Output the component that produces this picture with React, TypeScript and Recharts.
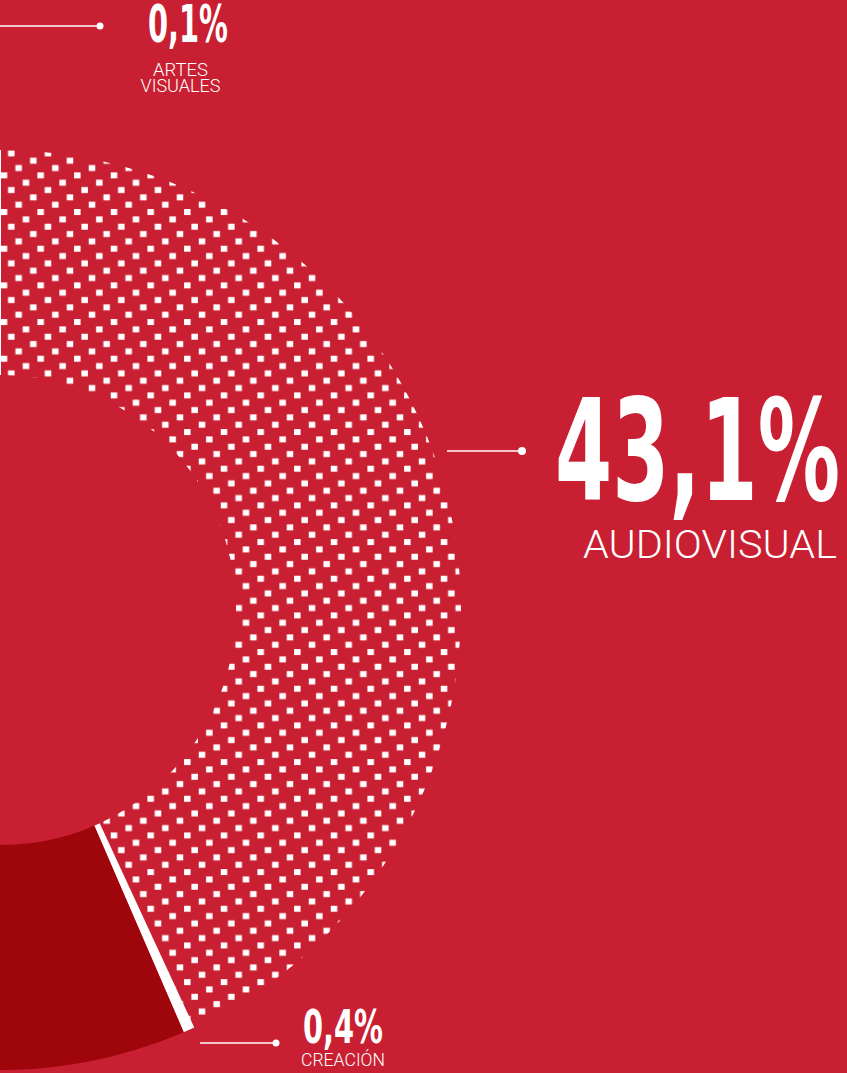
import React from 'react';
import { PieChart, Pie, Cell } from 'recharts';

// ---- data ----
const categories = ['Audiovisual', 'Creación', 'Resto', 'Artes visuales'];
const shares = [43.1, 0.4, 56.4, 0.1];
const labelTitles: (string[] | null)[] = [['AUDIOVISUAL'], ['CREACIÓN'], null, ['ARTES', 'VISUALES']];

// ---- styles ----
const BG = '#C91F32';
const DARK = '#9E060C';
const sliceFills = ['url(#dotPattern)', '#FFFFFF', DARK, '#FFFFFF'];

const NUM_FONT = '"Liberation Sans Narrow", "DejaVu Sans Condensed", "Roboto", sans-serif';
const TITLE_FONT = 'Roboto, "Open Sans", "Liberation Sans", sans-serif';

// label layout, relative to the pie centre
type Layout = {
  lineX1: number; lineX2: number; lineY: number; dotR: number;
  valX: number; valY: number; valSize: number; valLen: number;
  titleX: number; titleY: number; titleSize: number; titleLens: number[]; titleAnchor: 'start' | 'middle'; titleGap: number;
};
const LAYOUT: (Layout | null)[] = [
  { lineX1: 446, lineX2: 521, lineY: -159, dotR: 4, valX: 554, valY: -110, valSize: 140, valLen: 285,
    titleX: 582, titleY: -52, titleSize: 39, titleLens: [254], titleAnchor: 'start', titleGap: 0 },
  { lineX1: 199, lineX2: 275, lineY: 433, dotR: 3.5, valX: 302, valY: 433, valSize: 46, valLen: 80,
    titleX: 300, titleY: 456, titleSize: 18, titleLens: [84], titleAnchor: 'start', titleGap: 0 },
  null,
  { lineX1: -10, lineX2: 99, lineY: -584, dotR: 3.5, valX: 147, valY: -568, valSize: 52, valLen: 80,
    titleX: 179.5, titleY: -534, titleSize: 18, titleLens: [55, 80], titleAnchor: 'middle', titleGap: 16 },
];

const data = categories.map((name, i) => ({ name, value: shares[i] }));

const fmt = (v: number) => `${v.toFixed(1).replace('.', ',')}%`;

const renderLabel = (props: any) => {
  const { cx, cy, index, value } = props;
  const lay = LAYOUT[index];
  const titles = labelTitles[index];
  if (!lay || !titles) return null;
  return (
    <g key={`lbl-${index}`}>
      <line x1={cx + lay.lineX1} y1={cy + lay.lineY} x2={cx + lay.lineX2} y2={cy + lay.lineY}
        stroke="#FFFFFF" strokeWidth={1.5} />
      <circle cx={cx + lay.lineX2} cy={cy + lay.lineY} r={lay.dotR} fill="#FFFFFF" />
      <text x={cx + lay.valX} y={cy + lay.valY} fill="#FFFFFF" fontFamily={NUM_FONT} fontWeight={700}
        fontSize={lay.valSize} textLength={lay.valLen} lengthAdjust="spacingAndGlyphs">
        {fmt(value)}
      </text>
      {titles.map((t, k) => (
        <text key={k} x={cx + lay.titleX} y={cy + lay.titleY + k * lay.titleGap} fill="#FFFFFF"
          fontFamily={TITLE_FONT} fontWeight={300} fontSize={lay.titleSize} textAnchor={lay.titleAnchor}
          textLength={lay.titleLens[k]} lengthAdjust="spacingAndGlyphs">
          {t}
        </text>
      ))}
    </g>
  );
};

const P = 36.67;
const dotOffsets = [
  [0, 0],
  [P / 5, (2 * P) / 5],
  [(2 * P) / 5, (4 * P) / 5],
  [(3 * P) / 5, P / 5],
  [(4 * P) / 5, (3 * P) / 5],
];

export default function App() {
  return (
    <div style={{ position: 'absolute', left: 0, top: 0, width: 847, height: 1073, background: BG, overflow: 'hidden' }}>
      <svg width={0} height={0} style={{ position: 'absolute' }}>
        <defs>
          <pattern id="dotPattern" patternUnits="userSpaceOnUse" x={0.73} y={25.7} width={P} height={P}>
            {dotOffsets.map(([dx, dy], i) => (
              <rect key={i} x={dx} y={dy} width={6.5} height={6} fill="#FFFFFF" />
            ))}
          </pattern>
        </defs>
      </svg>
      <PieChart width={847} height={1073} margin={{ top: 0, right: 0, bottom: 0, left: 0 }}>
        <Pie
          data={data}
          dataKey="value"
          nameKey="name"
          cx={1}
          cy={610}
          innerRadius={235}
          outerRadius={460}
          startAngle={90}
          endAngle={-270}
          stroke="none"
          label={renderLabel}
          labelLine={false}
          isAnimationActive={false}
        >
          {data.map((d, i) => (
            <Cell key={d.name} fill={sliceFills[i]} stroke="none" />
          ))}
        </Pie>
      </PieChart>
    </div>
  );
}
